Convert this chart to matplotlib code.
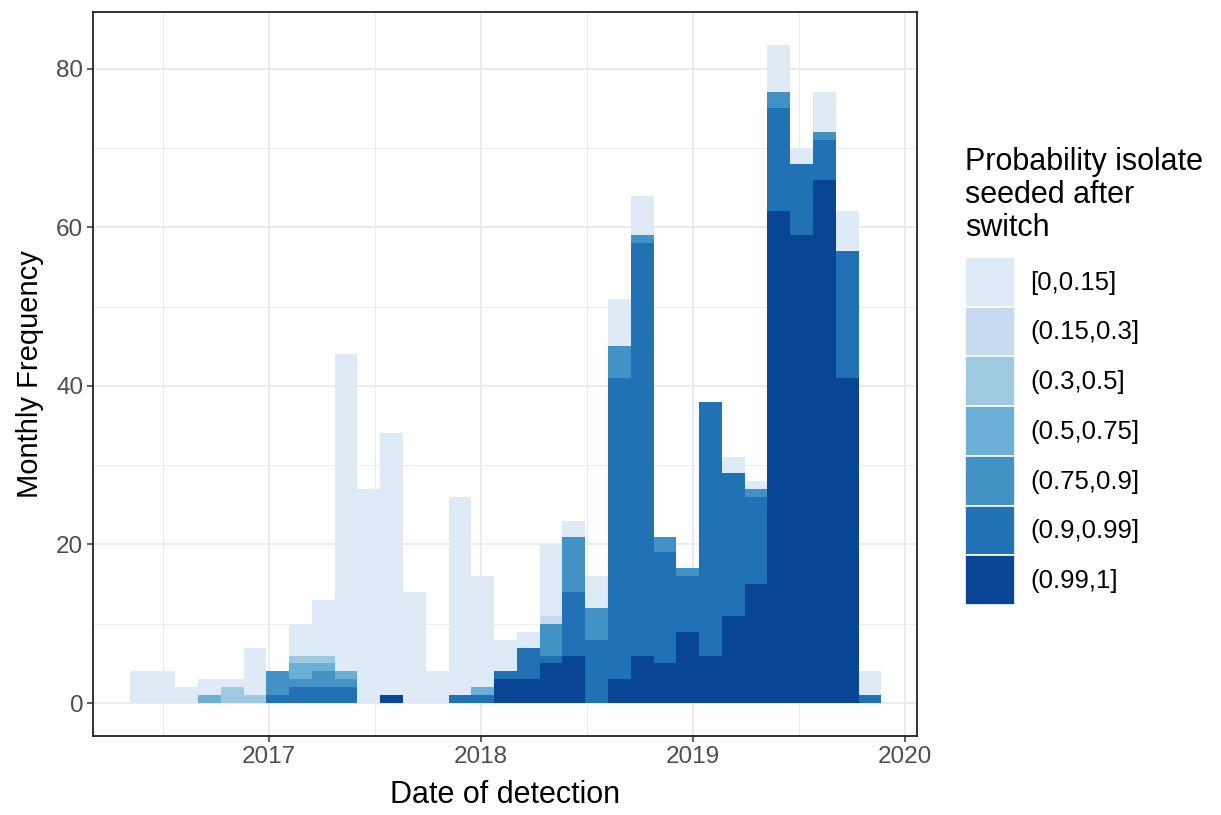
import matplotlib
matplotlib.use("Agg")
import matplotlib.pyplot as plt
from matplotlib.patches import Patch
from matplotlib.ticker import MultipleLocator
import numpy as np

plt.rcParams["font.family"] = ["Liberation Sans", "DejaVu Sans"]

# histogram bins (decimal years)
bin_start = 2016.345
bin_width = 0.10739
n_bins = 33

categories = ["[0,0.15]", "(0.15,0.3]", "(0.3,0.5]", "(0.5,0.75]",
              "(0.75,0.9]", "(0.9,0.99]", "(0.99,1]"]
colors = ["#deebf7", "#c6dbef", "#9ecae1", "#6baed6", "#4292c6", "#2171b5", "#084594"]

# monthly counts per probability class, one value per bin
c_0_015 = [4, 4, 2, 2, 1, 6, 0, 4, 7, 40, 27, 33, 14, 4, 25, 14, 4, 2, 9, 2, 4, 6, 5,
           0, 0, 0, 2, 1, 6, 2, 5, 5, 3]
c_015_03 = [0] * 18 + [1] + [0] * 14
c_03_05 = [0, 0, 0, 0, 2, 1, 0, 1, 1] + [0] * 24
c_05_075 = [0, 0, 0, 1, 0, 0, 0, 2, 1, 1, 0, 0, 0, 0, 0, 1] + [0] * 17
c_075_09 = [0, 0, 0, 0, 0, 0, 3, 1, 2, 1, 0, 0, 0, 0, 0, 0, 0, 0, 4, 7, 4, 4, 1,
            2, 1, 0, 0, 1, 2, 0, 1, 0, 0]
c_09_099 = [0, 0, 0, 0, 0, 0, 1, 2, 2, 2, 0, 0, 0, 0, 1, 1, 1, 4, 1, 8, 8, 38, 52,
            14, 7, 32, 18, 11, 13, 9, 5, 16, 1]
c_099_1 = [0, 0, 0, 0, 0, 0, 0, 0, 0, 0, 0, 1, 0, 0, 0, 0, 3, 3, 5, 6, 0, 3, 6,
           5, 9, 6, 11, 15, 62, 59, 66, 41, 0]

series = [c_0_015, c_015_03, c_03_05, c_05_075, c_075_09, c_09_099, c_099_1]

fig = plt.figure(figsize=(12.21, 8.15), dpi=100)
ax = fig.add_axes([93 / 1221, 1 - 736 / 815, (917 - 93) / 1221, (736 - 12) / 815])

left = bin_start + bin_width * np.arange(n_bins)
bottom = np.zeros(n_bins)
# stack darkest class at the bottom, like ggplot
for vals, col in zip(series[::-1], colors[::-1]):
    vals = np.array(vals, dtype=float)
    ax.bar(left, vals, width=bin_width, bottom=bottom, align="edge",
           color=col, linewidth=0, zorder=2)
    bottom += vals

ax.set_xlim(2016.172, 2020.057)
ax.set_ylim(-4.15, 87.15)
ax.set_xticks([2017, 2018, 2019, 2020])
ax.set_xticklabels(["2017", "2018", "2019", "2020"])
ax.xaxis.set_minor_locator(MultipleLocator(0.5))
ax.set_yticks([0, 20, 40, 60, 80])
ax.yaxis.set_minor_locator(MultipleLocator(10))

ax.grid(True, which="major", color="#EBEBEB", lw=1.4, zorder=0)
ax.grid(True, which="minor", color="#EBEBEB", lw=0.7, zorder=0)
ax.set_axisbelow(True)
ax.tick_params(which="major", length=4, width=1.1, color="#333333",
               labelsize=17.5, labelcolor="#4D4D4D", pad=3)
ax.tick_params(which="minor", length=0)
for s in ax.spines.values():
    s.set_color("#222222")
    s.set_linewidth(1.3)

ax.set_xlabel("Date of detection", fontsize=22, labelpad=9)
ax.set_ylabel("Monthly Frequency", fontsize=21, labelpad=9)

# legend title as its own text, keys below
fig.text(965 / 1221, 1 - 147 / 815, "Probability isolate\nseeded after\nswitch",
         fontsize=22, ha="left", va="top", linespacing=1.12)
handles = [Patch(facecolor=c, edgecolor="white", linewidth=1.2) for c in colors]
leg = ax.legend(handles, categories, loc="upper left",
                bbox_to_anchor=(965 / 1221, 1 - 257 / 815),
                bbox_transform=fig.transFigure, frameon=False, fontsize=18.5,
                handlelength=1.95, handleheight=2.6, labelspacing=0.0,
                handletextpad=0.58, borderpad=0, borderaxespad=0)
fig.savefig("out.png", dpi=100)
